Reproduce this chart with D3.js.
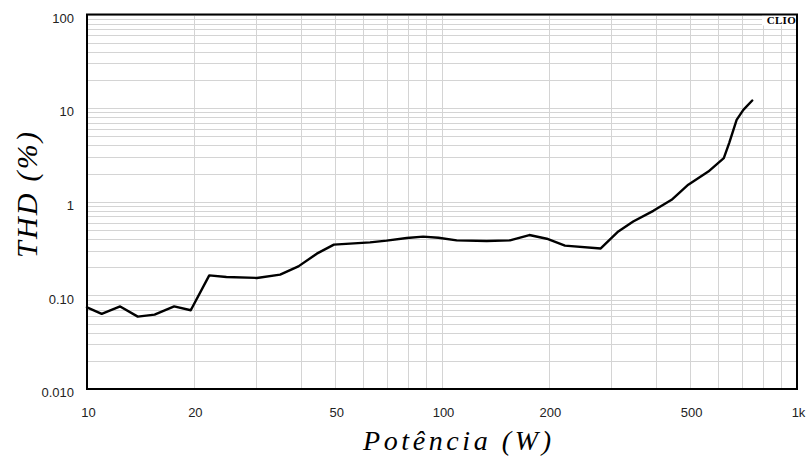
<!DOCTYPE html>
<html>
<head>
<meta charset="utf-8">
<script src="https://cdn.jsdelivr.net/npm/d3@7"></script>
<style>
  body { margin: 0; background: #fff; }
  svg { display: block; }
</style>
</head>
<body>
<svg id="chart" width="809" height="464"></svg>
<script>
// Measured power sweep: output power (W) and total harmonic distortion (%)
const power = [10, 11.0, 12.4, 13.9, 15.5, 17.6, 19.6, 22.1, 24.7, 30.1, 35.0, 39.4, 44.4, 49.6,
  62.7, 69.8, 79.6, 88.5, 97.7, 110, 133.6, 155.4, 176.2, 197.3, 222, 280, 313.8, 345.6,
  393.8, 443.4, 494, 562.6, 622, 644, 676, 706, 748];
const thd = [0.0746, 0.0634, 0.0762, 0.0593, 0.0623, 0.0762, 0.0693, 0.1636, 0.157, 0.1535,
  0.1665, 0.204, 0.279, 0.348, 0.368, 0.384, 0.410, 0.424, 0.413, 0.387, 0.381, 0.387,
  0.441, 0.403, 0.340, 0.317, 0.482, 0.616, 0.80, 1.05, 1.52, 2.10, 2.92, 4.23, 7.5, 9.58, 12.05];

// Axis tick labels
const xTickValues = [10, 20, 50, 100, 200, 500, 1000];
const xTickLabels = ["10", "20", "50", "100", "200", "500", "1k"];
const yTickValues = [0.01, 0.1, 1, 10, 100];
const yTickLabels = ["0.010", "0.10", "1", "10", "100"];

const xTitle = "Potência (W)";
const yTitle = "THD (%)";
const badge = "CLIO";

const svg = d3.select("#chart");
const plotLeft = 87, plotRight = 797, plotTop = 14.5, plotBottom = 389;

const x = d3.scaleLog().domain([10, 1000]).range([plotLeft, plotRight]);
const y = d3.scaleLog().domain([0.01, 100]).range([plotBottom, plotTop]);

// Decade grid: every 1..9 multiple
const minorOf = (lo, hi) => {
  const out = [];
  for (let d = lo; d < hi * 0.999; d *= 10)
    for (let m = 1; m <= 9; m++) out.push(d * m);
  out.push(hi);
  return out;
};
const xGrid = minorOf(10, 1000);
const yGrid = minorOf(0.01, 100);

const grid = svg.append("g").attr("stroke", "#d4d4d4").attr("stroke-width", 1);
grid.selectAll("line.v").data(xGrid).join("line").attr("class", "v")
  .attr("x1", d => Math.round(x(d)) + 0.5).attr("x2", d => Math.round(x(d)) + 0.5)
  .attr("y1", plotTop).attr("y2", plotBottom);
grid.selectAll("line.h").data(yGrid).join("line").attr("class", "h")
  .attr("y1", d => Math.round(y(d)) + 0.5).attr("y2", d => Math.round(y(d)) + 0.5)
  .attr("x1", plotLeft).attr("x2", plotRight);

// Badge in the top-right corner
svg.append("rect").attr("x", 762).attr("y", plotTop).attr("width", plotRight - 762).attr("height", 11)
  .attr("fill", "#fff");
svg.append("text").attr("x", plotRight - 1).attr("y", 24)
  .attr("text-anchor", "end")
  .attr("font-family", "Liberation Serif, serif").attr("font-weight", "bold")
  .attr("font-size", 11).attr("letter-spacing", 0.3)
  .text(badge);

// THD curve
const line = d3.line().x((d, i) => x(power[i])).y(d => y(d));
svg.append("path").datum(thd)
  .attr("fill", "none").attr("stroke", "#000").attr("stroke-width", 2.4)
  .attr("stroke-linejoin", "round").attr("stroke-linecap", "round")
  .attr("d", line);

// Frame
svg.append("rect").attr("x", plotLeft).attr("y", plotTop)
  .attr("width", plotRight - plotLeft).attr("height", plotBottom - plotTop)
  .attr("fill", "none").attr("stroke", "#000").attr("stroke-width", 2);

// Axes (labels only)
const xAxis = d3.axisBottom(x).tickValues(xTickValues)
  .tickFormat((d, i) => xTickLabels[i]).tickSize(0).tickPadding(0);
const gx = svg.append("g").attr("transform", `translate(1,${plotBottom})`).call(xAxis);
gx.select(".domain").remove();
gx.selectAll("text").attr("y", 28).attr("dy", 0)
  .attr("font-family", "Liberation Sans, Arial, sans-serif").attr("font-size", 13).attr("fill", "#222");

const yAxis = d3.axisLeft(y).tickValues(yTickValues)
  .tickFormat((d, i) => yTickLabels[i]).tickSize(0).tickPadding(0);
const gy = svg.append("g").attr("transform", `translate(74,3.5)`).call(yAxis);
gy.select(".domain").remove();
gy.selectAll("text").attr("x", 0)
  .attr("font-family", "Liberation Sans, Arial, sans-serif").attr("font-size", 13).attr("fill", "#222");

// Axis titles
svg.append("text").attr("x", 457).attr("y", 450)
  .attr("text-anchor", "middle")
  .attr("font-family", "Liberation Serif, serif").attr("font-style", "italic")
  .attr("font-size", 28).attr("textLength", 188).attr("lengthAdjust", "spacing")
  .text(xTitle);

svg.append("text").attr("transform", "translate(37,195) rotate(-90)")
  .attr("text-anchor", "middle")
  .attr("font-family", "Liberation Serif, serif").attr("font-style", "italic")
  .attr("font-size", 30).attr("textLength", 126).attr("lengthAdjust", "spacing")
  .text(yTitle);
</script>
</body>
</html>
